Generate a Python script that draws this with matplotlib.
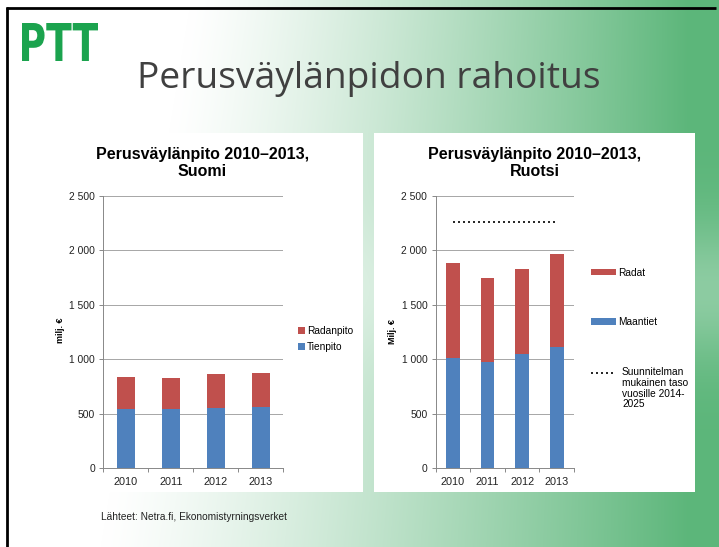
#import libraries
import numpy as np
import matplotlib
matplotlib.use('Agg')
import matplotlib.pyplot as plt
from matplotlib.patches import Rectangle, PathPatch
from matplotlib.textpath import TextPath
from matplotlib.font_manager import FontProperties
from matplotlib.transforms import Affine2D
from matplotlib.lines import Line2D

# data
years = ['2010', '2011', '2012', '2013']
fi_tienpito = [542, 542, 554, 566]
fi_radanpito = [294, 287, 312, 309]
se_maantiet = [1016, 973, 1047, 1111]
se_radat = [866, 775, 780, 854]
se_plan = [2260, 2260, 2260, 2260]
y_ticks = [0, 500, 1000, 1500, 2000, 2500]
y_ticklabels = ['0', '500', '1 000', '1 500', '2 000', '2 500']

W, H = 719, 547
blue = '#4f81bd'
red = '#c0504d'
grid_col = '#a6a6a6'
plt.rcParams['font.family'] = ['Liberation Sans', 'DejaVu Sans']

fig = plt.figure(figsize=(W / 100, H / 100), dpi=100)

# background of the slide, white to green
bg = fig.add_axes([0, 0, 1, 1], zorder=0)
bg.set_xlim(0, W)
bg.set_ylim(H, 0)
bg.axis('off')
X, Y = np.meshgrid(np.arange(W), np.arange(H))
x0 = 190 - 90 * (Y / H)
t = np.clip((X - x0) / (W - 30 - x0), 0, 1) ** 1.25
t = t * (1 - 0.3 * np.exp(-((Y - 290) / 70.0) ** 2))
green = np.array([92, 182, 122]) / 255.0
img = (1 - t[..., None]) * 1.0 + t[..., None] * green
bg.imshow(img, extent=[0, W, H, 0], aspect='auto', interpolation='bilinear')

# slide border
bg.plot([6, 716], [7.5, 7.5], color='black', lw=2, solid_capstyle='butt')
bg.plot([6.5, 6.5], [7, H], color='black', lw=2, solid_capstyle='butt')

# white chart boxes
bg.add_patch(Rectangle((42, 133), 321, 359, color='white', lw=0))
bg.add_patch(Rectangle((374, 133), 321, 359, color='white', lw=0))

# logo
tp = TextPath((0, 0), 'PTT', size=1, prop=FontProperties(family='DejaVu Sans', weight='bold'))
ext = tp.get_extents()
tr = Affine2D().translate(-ext.x0, -ext.y0).scale(76 / ext.width, -38 / ext.height).translate(22, 61)
bg.add_patch(PathPatch(tr.transform_path(tp), fc='#1ba34e', ec='none'))

# slide title
fig.text(137 / W, 1 - 88 / H, 'Perusväylänpidon rahoitus', fontsize=26.8, family='Open Sans',
         color='#404040', ha='left', va='baseline')


def setup_axes(ax):
    ax.set_xlim(-0.5, 3.5)
    ax.set_ylim(0, 2500)
    ax.set_yticks(y_ticks)
    ax.set_yticklabels(y_ticklabels, fontsize=7.4, color='#222222')
    ax.tick_params(axis='y', length=3, width=0.7, color='#888888', pad=3)
    # tick marks between the categories, labels in the middle
    ax.set_xticks([-0.5, 0.5, 1.5, 2.5, 3.5])
    ax.set_xticklabels([])
    ax.tick_params(axis='x', which='major', length=3, width=0.7, color='#888888')
    ax.set_xticks(range(len(years)), minor=True)
    ax.set_xticklabels(years, minor=True, fontsize=7.8, color='#222222')
    ax.tick_params(axis='x', which='minor', length=0, pad=6)
    ax.yaxis.grid(True, color=grid_col, lw=0.7)
    ax.set_axisbelow(True)
    for s in ['top', 'right']:
        ax.spines[s].set_visible(False)
    for s in ['left', 'bottom']:
        ax.spines[s].set_color('#888888')
        ax.spines[s].set_linewidth(0.7)
    ax.patch.set_alpha(0)


x = np.arange(len(years))

# Suomi
ax1 = fig.add_axes([103.3 / W, 1 - 468.3 / H, 180 / W, 272.3 / H], zorder=2)
setup_axes(ax1)
b1 = ax1.bar(x, fi_tienpito, width=0.4, color=blue, label='Tienpito')
b2 = ax1.bar(x, fi_radanpito, width=0.4, bottom=fi_tienpito, color=red, label='Radanpito')
ax1.legend(handles=[b2, b1], loc='center left', bbox_to_anchor=(298 / W, 1 - 339 / H),
           bbox_transform=fig.transFigure, frameon=False, fontsize=7.3, borderpad=0,
           borderaxespad=0, handlelength=0.7, handleheight=0.7, handletextpad=0.2,
           labelspacing=0.6)
fig.text(202.5 / W, 1 - 163 / H, 'Perusväylänpito 2010–2013,\nSuomi', fontsize=11.5,
         fontweight='bold', ha='center', va='center', linespacing=1.15)
fig.text(60.7 / W, 1 - 330 / H, 'milj. €', fontsize=6.5, fontweight='bold', rotation=90,
         ha='center', va='center')

# Ruotsi
ax2 = fig.add_axes([435.7 / W, 1 - 468.3 / H, 138.3 / W, 272.3 / H], zorder=2)
setup_axes(ax2)
b3 = ax2.bar(x, se_maantiet, width=0.4, color=blue, label='Maantiet')
b4 = ax2.bar(x, se_radat, width=0.4, bottom=se_maantiet, color=red, label='Radat')
ax2.plot(x, se_plan, color='black', lw=1.2, linestyle=(0, (1.2, 1.8)), dash_capstyle='butt')
ax2.legend(handles=[b4, b3], loc='center left', bbox_to_anchor=(591 / W, 1 - 297.5 / H),
           bbox_transform=fig.transFigure, frameon=False, fontsize=7.3, borderpad=0,
           borderaxespad=0, handlelength=2.5, handleheight=0.6, handletextpad=0.15,
           labelspacing=3.9)
fig.text(534.5 / W, 1 - 163 / H, 'Perusväylänpito 2010–2013,\nRuotsi', fontsize=11.5,
         fontweight='bold', ha='center', va='center', linespacing=1.15)
fig.text(392.7 / W, 1 - 332 / H, 'Milj. €', fontsize=6.5, fontweight='bold', rotation=90,
         ha='center', va='center')

# legend key for the dotted plan line
bg.add_line(Line2D([591, 614], [373, 373], color='black', lw=1.2,
                   linestyle=(0, (1.2, 1.8)), dash_capstyle='butt'))
fig.text(622 / W, 1 - 367 / H, 'Suunnitelman\nmukainen taso\nvuosille 2014-\n2025',
         fontsize=7.3, ha='left', va='top', linespacing=1.1)

# source
fig.text(101 / W, 1 - 517 / H, 'Lähteet: Netra.fi, Ekonomistyrningsverket', fontsize=7.3,
         color='#222222', ha='left', va='center')

fig.savefig('out.png', dpi=100)
